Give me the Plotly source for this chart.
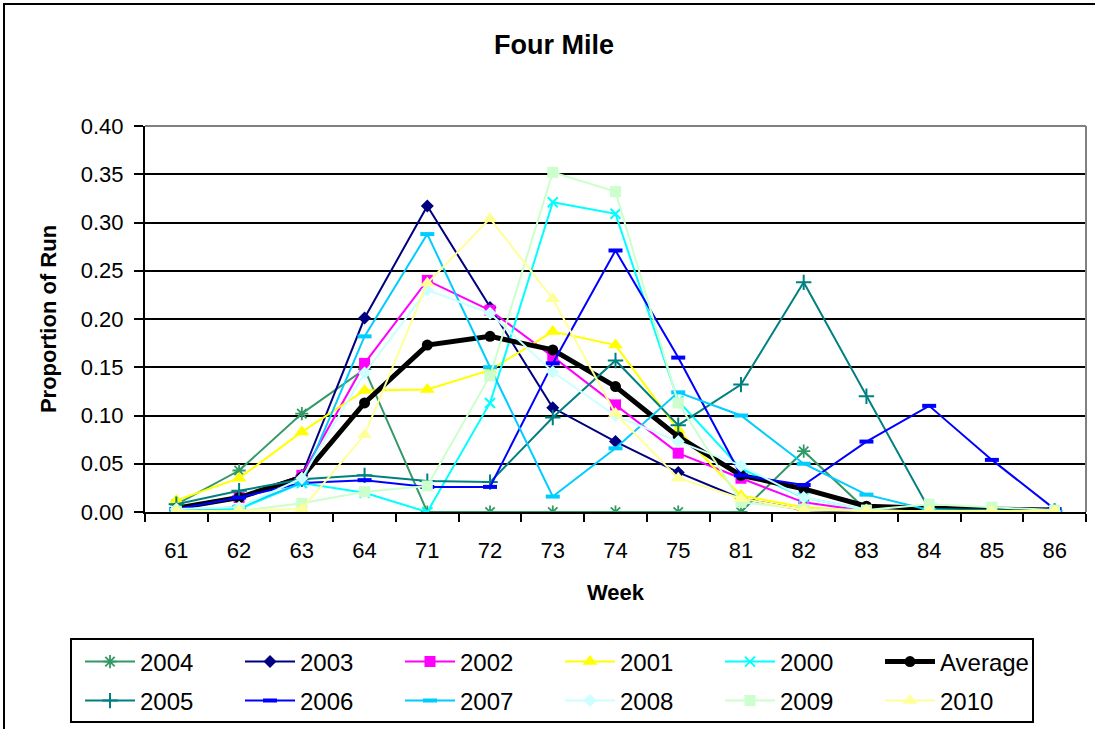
import plotly.graph_objects as go

# Week labels along the category axis
weeks = ["61", "62", "63", "64", "71", "72", "73", "74", "75",
         "81", "82", "83", "84", "85", "86"]

# Proportion of the run passing in each week, by year
y2004 = [0.008, 0.043, 0.102, 0.148, 0.0, 0.0, 0.0, 0.0, 0.0, 0.0, 0.063, 0.002, 0.0, 0.0, 0.0]
y2003 = [0.003, 0.015, 0.038, 0.201, 0.317, 0.212, 0.108, 0.073, 0.041, 0.014, 0.002, 0.0, 0.0, 0.0, 0.0]
y2002 = [0.003, 0.015, 0.038, 0.154, 0.240, 0.209, 0.161, 0.111, 0.061, 0.035, 0.010, 0.001, 0.0, 0.0, 0.0]
y2001 = [0.012, 0.035, 0.083, 0.126, 0.127, 0.147, 0.187, 0.173, 0.085, 0.017, 0.005, 0.001, 0.0, 0.0, 0.0]
y2000 = [0.002, 0.003, 0.030, 0.020, 0.0, 0.113, 0.321, 0.309, 0.115, 0.045, 0.015, 0.002, 0.0, 0.0, 0.0]
avg = [0.004, 0.015, 0.036, 0.113, 0.173, 0.182, 0.168, 0.130, 0.078, 0.038, 0.024, 0.006, 0.004, 0.003, 0.002]
y2005 = [0.008, 0.022, 0.034, 0.038, 0.032, 0.031, 0.098, 0.157, 0.090, 0.132, 0.238, 0.120, 0.003, 0.002, 0.001]
y2006 = [0.003, 0.015, 0.030, 0.033, 0.026, 0.026, 0.154, 0.271, 0.160, 0.038, 0.028, 0.073, 0.110, 0.054, 0.003]
y2007 = [0.002, 0.005, 0.030, 0.182, 0.288, 0.150, 0.016, 0.066, 0.124, 0.100, 0.050, 0.018, 0.002, 0.0, 0.0]
y2008 = [0.003, 0.005, 0.035, 0.144, 0.230, 0.206, 0.145, 0.100, 0.073, 0.048, 0.015, 0.002, 0.0, 0.0, 0.0]
y2009 = [0.001, 0.001, 0.009, 0.021, 0.027, 0.141, 0.352, 0.332, 0.113, 0.010, 0.003, 0.002, 0.008, 0.005, 0.002]
y2010 = [0.001, 0.001, 0.003, 0.080, 0.237, 0.304, 0.221, 0.102, 0.035, 0.014, 0.002, 0.001, 0.001, 0.001, 0.001]

# y-axis ticks
y_ticks = [0.0, 0.05, 0.10, 0.15, 0.20, 0.25, 0.30, 0.35, 0.40]

FONT = "Liberation Sans, Arial, sans-serif"

# (name, values, color, symbol, size, marker line width, line width, legend row)
series = [
    ("2004", y2004, "#339966", "asterisk-open", 11, 1.8, 2, "legend"),
    ("2003", y2003, "#000080", "diamond", 10, 0, 2, "legend"),
    ("2002", y2002, "#FF00FF", "square", 11, 0, 2, "legend"),
    ("2001", y2001, "#FFFF00", "triangle-up", 13, 0, 2, "legend"),
    ("2000", y2000, "#00FFFF", "x-thin-open", 10, 2, 2, "legend"),
    ("Average", avg, "#000000", "circle", 11, 0, 5, "legend"),
    ("2005", y2005, "#008080", "cross-thin-open", 11, 2, 2, "legend2"),
    ("2006", y2006, "#0000FF", "line-ew-open", 10, 4, 2, "legend2"),
    ("2007", y2007, "#00CCFF", "line-ew-open", 10, 4, 2, "legend2"),
    ("2008", y2008, "#CCFFFF", "diamond", 10, 0, 2, "legend2"),
    ("2009", y2009, "#CCFFCC", "square", 11, 0, 2, "legend2"),
    ("2010", y2010, "#FFFF99", "triangle-up", 13, 0, 2, "legend2"),
]

fig = go.Figure()
for name, vals, color, sym, size, mlw, lw, leg in series:
    fig.add_trace(go.Scatter(
        x=weeks, y=vals, name=name, mode="lines+markers",
        line=dict(color=color, width=lw),
        marker=dict(symbol=sym, size=size, color=color,
                    line=dict(color=color, width=mlw)),
        legend=leg,
    ))

# plot area: x 145..1086 px, y 126..512 px on a 1095x729 page
L, R, T, B = 145, 1095 - 1086, 126, 729 - 512
PW, PH = 1095 - L - R, 729 - T - B


def px(x):
    return (x - L) / PW


def py(y):
    return (729 - B - y) / PH


legend_common = dict(
    orientation="h", xanchor="left", yanchor="middle",
    bgcolor="rgba(0,0,0,0)", borderwidth=0,
    entrywidth=95, entrywidthmode="pixels", itemwidth=50,
    font=dict(family=FONT, size=24, color="#000000"),
    itemclick=False, itemdoubleclick=False,
)

fig.update_layout(
    width=1095, height=729,
    margin=dict(l=L, r=R, t=T, b=B, pad=0, autoexpand=False),
    paper_bgcolor="white", plot_bgcolor="white",
    font=dict(family=FONT, color="#000000"),
    title=dict(text="<b>Four Mile</b>", x=554 / 1095, xanchor="center",
               xref="container", y=1 - 45 / 729, yanchor="middle",
               yref="container", font=dict(family=FONT, size=27, color="#000000")),
    legend=dict(x=px(80), y=py(662), **legend_common),
    legend2=dict(x=px(80), y=py(701), **legend_common),
    xaxis=dict(
        type="category", categoryorder="array", categoryarray=weeks,
        range=[-0.5, len(weeks) - 0.5], automargin=False,
        showgrid=False, showline=True, linecolor="#000000", linewidth=2,
        ticks="outside", tickson="boundaries", ticklen=8, tickwidth=1.5,
        tickcolor="#000000",
        tickfont=dict(family=FONT, size=22, color="#000000"),
        ticklabelstandoff=18,
        title=dict(text="<b>Week</b>", standoff=22,
                   font=dict(family=FONT, size=22, color="#000000")),
    ),
    yaxis=dict(
        range=[0, 0.40], tickvals=y_ticks, tickformat=".2f", automargin=False,
        showgrid=True, gridcolor="#000000", gridwidth=2,
        zeroline=False, showline=True, linecolor="#000000", linewidth=2,
        ticks="outside", ticklen=9, tickwidth=1.5, tickcolor="#000000",
        tickfont=dict(family=FONT, size=22, color="#000000"),
        ticklabelstandoff=6,
        title=dict(text="<b>Proportion of Run</b>", standoff=18,
                   font=dict(family=FONT, size=22, color="#000000")),
    ),
    shapes=[
        # grey frame on top and right of the plot area
        dict(type="line", xref="paper", yref="paper", x0=0, x1=1, y0=1, y1=1,
             line=dict(color="#808080", width=2)),
        dict(type="line", xref="paper", yref="paper", x0=1, x1=1, y0=0, y1=1,
             line=dict(color="#808080", width=2)),
        # legend box
        dict(type="rect", xref="paper", yref="paper",
             x0=px(71), x1=px(1033), y0=py(722), y1=py(639),
             line=dict(color="#000000", width=2), fillcolor="rgba(0,0,0,0)"),
        # outer chart frame
        dict(type="rect", xref="paper", yref="paper",
             x0=px(4), x1=px(1120), y0=py(760), y1=py(4),
             line=dict(color="#000000", width=2), fillcolor="rgba(0,0,0,0)"),
    ],
)

fig.write_html("out.html", config={"displayModeBar": False})
